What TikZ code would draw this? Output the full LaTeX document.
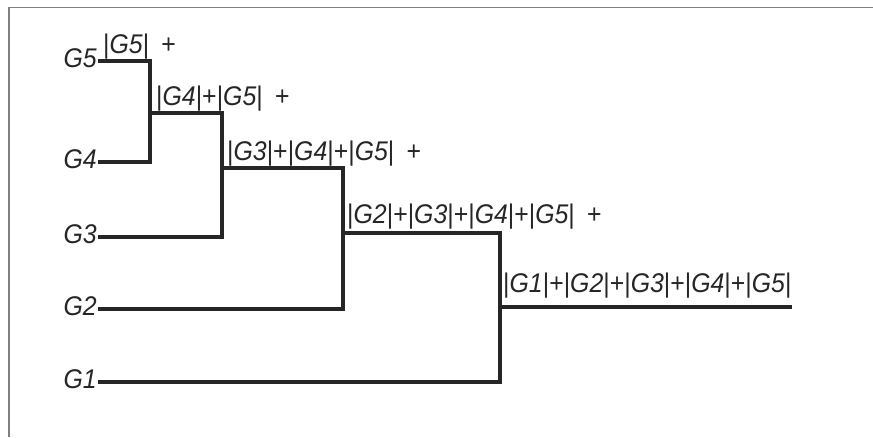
\documentclass[tikz,border=0pt]{standalone}
\usepackage{fontspec}
\setmainfont{Liberation Sans}
\newfontfamily\treefont[FakeStretch=0.92]{Liberation Sans}

\newcommand{\grp}[1]{|\textit{G#1}|}

\begin{document}
\begin{tikzpicture}[x=1pt,y=-1pt,
  branch/.style={line width=3.2pt,color=black!85,line join=miter},
  leaf/.style={anchor=east,inner sep=0pt,inner xsep=1pt,text height=12pt,text depth=0pt,
    font=\treefont\fontsize{27}{32}\selectfont\itshape,text=black!85},
  size/.style={anchor=base west,inner sep=0pt,font=\treefont\fontsize{27}{32}\selectfont,text=black!85}]

\useasboundingbox (0,0) rectangle (873,437);

%Frame round the picture
\draw[gray,line width=1.5pt] (9,437) -- (9,7.5) -- (873,7.5);

%Leaves
\node[leaf] (g5) at (98,61) {G5};
\node[leaf] (g4) at (98,162) {G4};
\node[leaf] (g3) at (98,237) {G3};
\node[leaf] (g2) at (98,309) {G2};
\node[leaf] (g1) at (98,382) {G1};

%Corners of the tree
\coordinate (j5) at (150,61);
\coordinate (j4) at (150,162);
\coordinate (m45) at (150,113);
\coordinate (j45) at (222,113);
\coordinate (j3) at (222,237);
\coordinate (m345) at (222,168);
\coordinate (j345) at (343,168);
\coordinate (j2) at (343,309);
\coordinate (m2345) at (343,233);
\coordinate (j2345) at (500,233);
\coordinate (j1) at (500,382);
\coordinate (m12345) at (500,307);
\coordinate (root) at (792,307);

% Draw the branches
\draw[branch] (g5.east) -- (j5) -- (j4) -- (g4.east);
\draw[branch] (m45) -- (j45) -- (j3) -- (g3.east);
\draw[branch] (m345) -- (j345) -- (j2) -- (g2.east);
\draw[branch] (m2345) -- (j2345) -- (j1) -- (g1.east);
\draw[branch] (m12345) -- (root);

%Sizes over the branches
\node[size] (s5) at (103,53) {\grp5\hspace{0.45em}+};
\node[size] (s45) at (156,105) {\grp4+\grp5\hspace{0.45em}+};
\node[size] (s345) at (227,160) {\grp3+\grp4+\grp5\hspace{0.45em}+};
\node[size] (s2345) at (347,223) {\grp2+\grp3+\grp4+\grp5\hspace{0.45em}+};
\node[size] (s12345) at (503,292) {\grp1+\grp2+\grp3+\grp4+\grp5};

\end{tikzpicture}
\end{document}
